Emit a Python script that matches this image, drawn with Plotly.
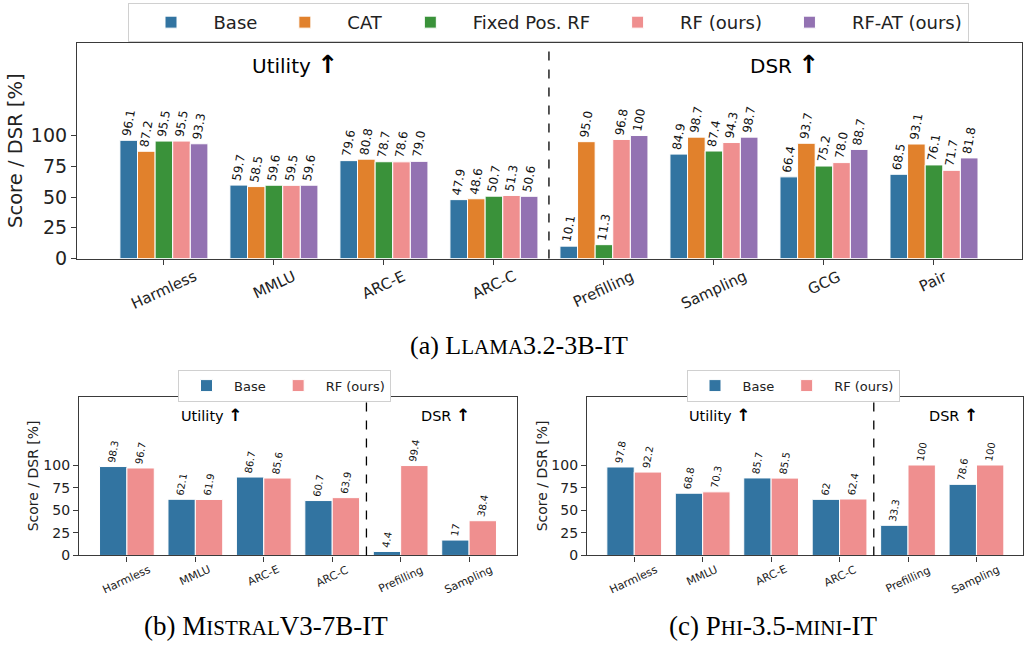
import plotly.graph_objects as go

# ---------------- data ----------------
cats_a = ["Harmless", "MMLU", "ARC-E", "ARC-C", "Prefilling", "Sampling", "GCG", "Pair"]
base_a = [96.1, 59.7, 79.6, 47.9, 10.1, 84.9, 66.4, 68.5]
cat_a = [87.2, 58.5, 80.8, 48.6, 95.0, 98.7, 93.7, 93.1]
fixed_a = [95.5, 59.6, 78.7, 50.7, 11.3, 87.4, 75.2, 76.1]
rf_a = [95.5, 59.5, 78.6, 51.3, 96.8, 94.3, 78.0, 71.7]
rfat_a = [93.3, 59.6, 79.0, 50.6, 100, 98.7, 88.7, 81.8]

cats_bc = ["Harmless", "MMLU", "ARC-E", "ARC-C", "Prefilling", "Sampling"]
base_b = [98.3, 62.1, 86.7, 60.7, 4.4, 17]
rf_b = [96.7, 61.9, 85.6, 63.9, 99.4, 38.4]
base_c = [97.8, 68.8, 85.7, 62, 33.3, 78.6]
rf_c = [92.2, 70.3, 85.5, 62.4, 100, 100]

yticks = [0, 25, 50, 75, 100]

# ---------------- style ----------------
COL = {
    "Base": "#3274a1",
    "CAT": "#e1812c",
    "Fixed Pos. RF": "#3a923a",
    "RF (ours)": "#ef8f8f",
    "RF-AT (ours)": "#9372b2",
}
SANS = "DejaVu Sans"
SERIF = "Liberation Serif"
W, H = 1024, 651


def px(x):
    return min(1.0, max(0.0, x / W))


def py(y):
    return min(1.0, max(0.0, 1 - y / H))


def fmt_a(v):
    return "100" if v == 100 else f"{v:.1f}"


def fmt_bc(v):
    return f"{v:g}"


fig = go.Figure()

series_a = [("Base", base_a), ("CAT", cat_a), ("Fixed Pos. RF", fixed_a),
            ("RF (ours)", rf_a), ("RF-AT (ours)", rfat_a)]
for name, vals in series_a:
    fig.add_trace(go.Bar(
        x=cats_a, y=vals, name=name, marker_color=COL[name],
        marker_line=dict(color="white", width=1),
        text=[fmt_a(v) for v in vals], textposition="outside", textangle=-80,
        textfont=dict(family=SANS, size=12, color="#111"),
        cliponaxis=False, constraintext="none",
        xaxis="x", yaxis="y", legend="legend",
    ))

for ax, leg, b, r in [("2", "legend2", base_b, rf_b), ("3", "legend3", base_c, rf_c)]:
    for name, vals in [("Base", b), ("RF (ours)", r)]:
        fig.add_trace(go.Bar(
            x=cats_bc, y=vals, name=name, marker_color=COL[name],
            marker_line=dict(color="white", width=1),
            text=[fmt_bc(v) for v in vals], textposition="outside", textangle=-80,
            textfont=dict(family=SANS, size=10, color="#111"),
            cliponaxis=False, constraintext="none",
            xaxis="x" + ax, yaxis="y" + ax, legend=leg,
        ))

LINE = "#3a3a3a"


def xax(domain, rng, anchor):
    return dict(domain=domain, range=rng, anchor=anchor, type="category",
                showline=True, mirror=True, linecolor=LINE, linewidth=1.2,
                ticks="outside", ticklen=5, tickcolor=LINE, showticklabels=False,
                showgrid=False, zeroline=False, fixedrange=True)


def yax(domain, anchor, size):
    return dict(domain=domain, range=[0, 175], anchor=anchor,
                tickvals=yticks, ticktext=[str(t) for t in yticks],
                showline=True, mirror=True, linecolor=LINE, linewidth=1.2,
                ticks="outside", ticklen=5, tickcolor=LINE,
                tickfont=dict(family=SANS, size=size, color="#222"),
                showgrid=False, zeroline=False, fixedrange=True)


xa_dom = [px(77), px(1022)]
ya_dom = [py(263), py(44)]
xb_dom = [px(79), px(517)]
xc_dom = [px(587), px(1023)]
ybc_dom = [py(565), py(404)]

fig.update_layout(
    width=W, height=H, margin=dict(l=0, r=0, t=0, b=0),
    paper_bgcolor="white", plot_bgcolor="white",
    barmode="group", bargap=0.2, bargroupgap=0.0,
    font=dict(family=SANS, color="#222"),
    xaxis=xax(xa_dom, [-0.79, 7.8], "y"),
    yaxis=yax(ya_dom, "x", 19),
    xaxis2=xax(xb_dom, [-0.7, 5.7], "y2"),
    yaxis2=yax(ybc_dom, "x2", 14),
    xaxis3=xax(xc_dom, [-0.69, 5.68], "y3"),
    yaxis3=yax(ybc_dom, "x3", 14),
    legend=dict(orientation="h", x=px(548), xanchor="center", y=py(3), yanchor="top",
                font=dict(family=SANS, size=18, color="#222"),
                bordercolor="#d0d0d0", borderwidth=1, bgcolor="white", itemwidth=75),
    legend2=dict(orientation="h", x=px(284.5), xanchor="center", y=py(376), yanchor="top",
                 font=dict(family=SANS, size=13, color="#222"),
                 bordercolor="#d0d0d0", borderwidth=1, bgcolor="white", itemwidth=45),
    legend3=dict(orientation="h", x=px(793), xanchor="center", y=py(376), yanchor="top",
                 font=dict(family=SANS, size=13, color="#222"),
                 bordercolor="#d0d0d0", borderwidth=1, bgcolor="white", itemwidth=45),
    showlegend=True,
)

# dashed separators between Utility and DSR groups
for xr, yr in [("x", "y domain"), ("x2", "y2 domain"), ("x3", "y3 domain")]:
    fig.add_shape(type="line", xref=xr, yref=yr, x0=3.5, x1=3.5, y0=0, y1=1,
                  line=dict(color="black", width=1.3, dash="dash"))

ann = []
# category labels (rotated, centered under ticks)
for c in cats_a:
    ann.append(dict(x=c, y=0, xref="x", yref="y domain", text=c, showarrow=False,
                    textangle=-25, xanchor="center", yanchor="top", yshift=-6,
                    font=dict(family=SANS, size=15, color="#222")))
for xr, yr in [("x2", "y2 domain"), ("x3", "y3 domain")]:
    for c in cats_bc:
        ann.append(dict(x=c, y=0, xref=xr, yref=yr, text=c, showarrow=False,
                        textangle=-25, xanchor="center", yanchor="top", yshift=-5,
                        font=dict(family=SANS, size=11, color="#222")))

# section headers
for txt, xp, yp, sz, asz in [("Utility", 295, 66, 20, 25), ("DSR", 784, 66, 20, 25),
                             ("Utility", 212, 422, 14.5, 17), ("DSR", 445, 422, 14.5, 17),
                             ("Utility", 720, 422, 14.5, 17), ("DSR", 953, 422, 14.5, 17)]:
    ann.append(dict(x=px(xp), y=py(yp), xref="paper", yref="paper",
                    text=f"{txt} <span style=\"font-size:{asz}px\"><b>↑</b></span>",
                    showarrow=False, xanchor="center", yanchor="middle",
                    font=dict(family=SANS, size=sz, color="black")))

# y-axis titles
for xp, yp, sz in [(16, 153.5, 19.5), (33, 484.5, 14), (542, 484.5, 14)]:
    ann.append(dict(x=px(xp), y=py(yp), xref="paper", yref="paper",
                    text="Score / DSR [%]", showarrow=False, textangle=-90,
                    xanchor="center", yanchor="middle",
                    font=dict(family=SANS, size=sz, color="#222")))

# captions with small caps
caps = [
    (519, 351, 26, "(a) L<span style=\"font-size:21px\">LAMA</span>3.2-3B-IT"),
    (266, 637, 27, "(b) M<span style=\"font-size:21px\">ISTRAL</span>V3-7B-IT"),
    (773, 637, 27, "(c) P<span style=\"font-size:21px\">HI</span>-3.5-"
                   "<span style=\"font-size:21px\">MINI</span>-IT"),
]
for xp, yp, sz, t in caps:
    ann.append(dict(x=px(xp), y=py(yp), xref="paper", yref="paper", text=t,
                    showarrow=False, xanchor="center", yanchor="middle",
                    font=dict(family=SERIF, size=sz, color="black")))

fig.update_layout(annotations=ann)

PIN = (
    "document.documentElement.style.margin='0px';"
    "document.body.style.margin='0px';"
    "document.documentElement.style.overflow='hidden';"
    "document.body.style.overflow='hidden';"
    "var gd=document.getElementsByClassName('plotly-graph-div')[0];"
    "if(gd){gd.style.position='fixed';gd.style.top='0px';gd.style.left='0px';}"
)

fig.write_html("out.html", config={"displayModeBar": False}, post_script=PIN)
